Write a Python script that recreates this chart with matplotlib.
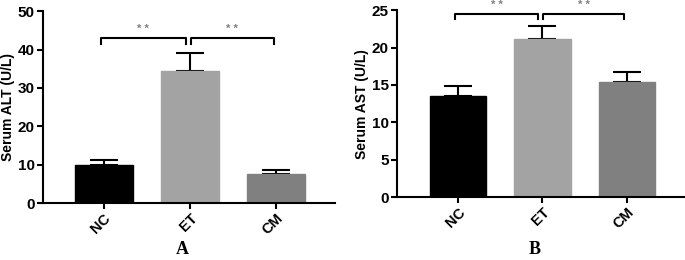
import numpy as np
import matplotlib
matplotlib.use("Agg")
import matplotlib.pyplot as plt

plt.rcParams['font.family'] = ['Liberation Sans', 'DejaVu Sans']
plt.rcParams['font.weight'] = 'bold'

groups = ['NC', 'ET', 'CM']
bar_colors = ['#000000', '#a3a3a3', '#808080']

alt_mean = [9.8, 34.4, 7.5]
alt_err = [1.3, 4.8, 1.0]
ast_mean = [13.5, 21.1, 15.4]
ast_err = [1.3, 1.8, 1.3]


def draw_panel(ax, means, errs, ylim, yticks, ylabel, bracket_y, bracket_drop, xlim):
    x = np.arange(len(groups))
    ax.bar(x, means, width=0.67, color=bar_colors, edgecolor=bar_colors, zorder=2)
    ax.errorbar(x, means, yerr=[np.zeros(len(errs)), errs], fmt='none',
                ecolor='black', elinewidth=1.5, capsize=10, capthick=1.5, zorder=1)
    ax.set_xlim(*xlim)
    ax.set_ylim(*ylim)
    ax.set_yticks(yticks)
    ax.set_xticks(x)
    ax.set_xticklabels(groups, rotation=45, ha='right', rotation_mode='anchor',
                       fontsize=10.5, fontweight='bold')
    for lab in ax.get_yticklabels():
        lab.set_fontsize(11)
        lab.set_fontweight('bold')
    ax.set_ylabel(ylabel, fontsize=10, fontweight='bold', labelpad=2)
    for side in ['top', 'right']:
        ax.spines[side].set_visible(False)
    for side in ['left', 'bottom']:
        ax.spines[side].set_linewidth(1.5)
    ax.tick_params(axis='both', width=1.5, length=4, pad=2)

    # significance brackets
    for x0, x1 in [(-0.03, 0.95), (1.01, 1.97)]:
        ax.plot([x0, x0, x1, x1],
                [bracket_y - bracket_drop, bracket_y, bracket_y, bracket_y - bracket_drop],
                color='black', lw=1.5, clip_on=False)
        ax.text((x0 + x1) / 2, bracket_y + bracket_drop * 0.6, '* *', ha='center', va='bottom',
                color='#808080', fontsize=8, clip_on=False)


fig = plt.figure(figsize=(6.85, 2.6), dpi=100)
ax1 = fig.add_axes([0.063, 0.219, 0.426, 0.738])
ax2 = fig.add_axes([0.580, 0.242, 0.418, 0.719])

draw_panel(ax1, alt_mean, alt_err, (0, 50), [0, 10, 20, 30, 40, 50],
           'Serum ALT (U/L)', 43.0, 1.6, (-0.70, 2.68))
draw_panel(ax2, ast_mean, ast_err, (0, 25), [0, 5, 10, 15, 20, 25],
           'Serum AST (U/L)', 24.55, 0.75, (-0.716, 2.67))

fig.text(182 / 685, 0.04, 'A', family=['Liberation Serif', 'DejaVu Serif'],
         fontsize=13, fontweight='bold', ha='center', va='center')
fig.text(535 / 685, 0.04, 'B', family=['Liberation Serif', 'DejaVu Serif'],
         fontsize=13, fontweight='bold', ha='center', va='center')

fig.savefig('out.png', dpi=100)
